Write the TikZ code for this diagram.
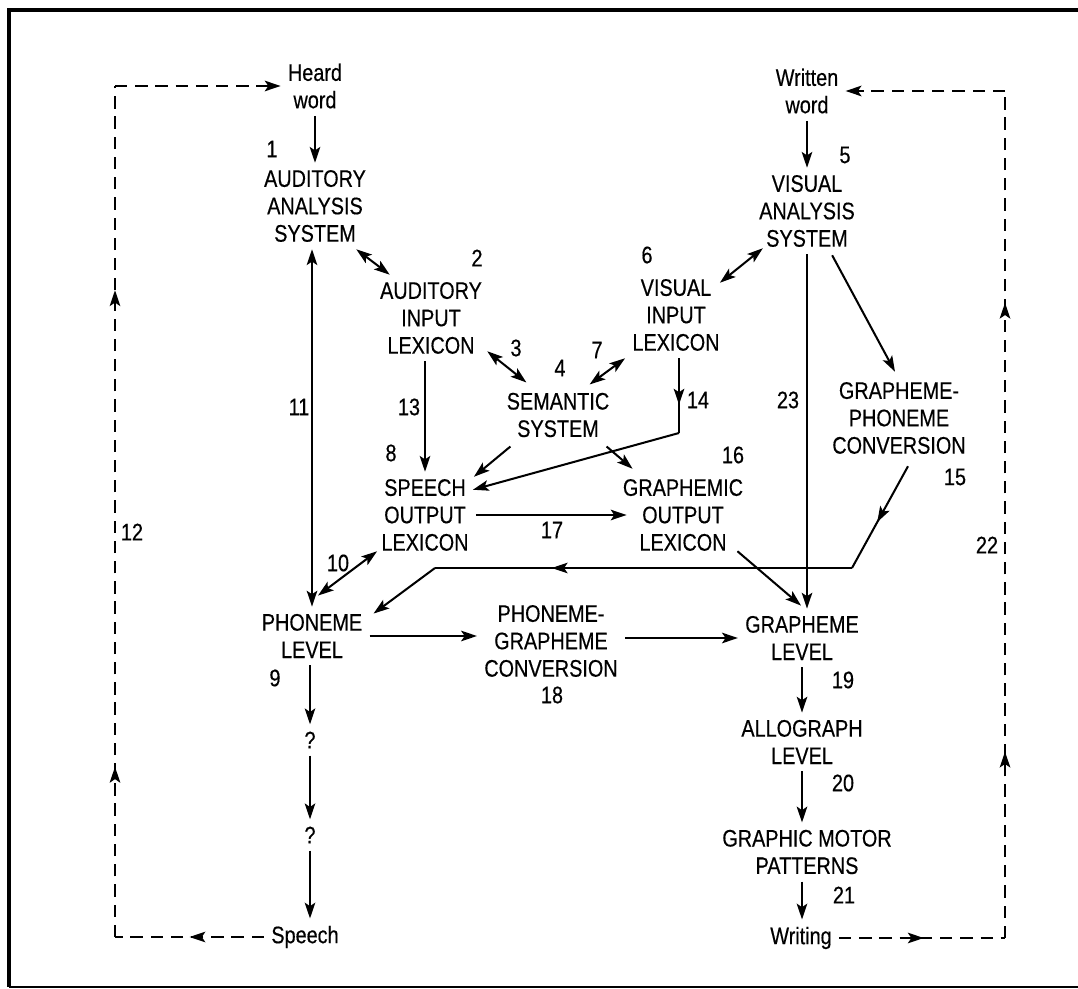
\documentclass[tikz,border=0pt]{standalone}
\usepackage{fontspec}
\setmainfont{Liberation Sans}[FakeStretch=0.83, FakeBold=0.4]
\usetikzlibrary{arrows.meta,decorations.markings}

\begin{document}
\begin{tikzpicture}[
  x=0.02cm, y=-0.02cm,
  >={Stealth[length=9pt, width=6pt, inset=2pt]},
  every node/.style={inner sep=0pt, font=\fontsize{13.6}{15.6}\selectfont},
  box/.style={align=center, inner sep=4pt},
  link/.style={draw, line width=1.15pt},
  arr/.style={link, ->},
  dbl/.style={link, <->},
  fb/.style={draw, line width=1.15pt, dash pattern=on 7pt off 4.5pt},
  tipat/.style={postaction={decorate},
    decoration={markings, mark=at position #1 with {\arrow{>}}}},
  twotips/.style 2 args={postaction={decorate},
    decoration={markings, mark=at position #1 with {\arrow{>}},
                          mark=at position #2 with {\arrow{>}}}}]

  \useasboundingbox (0,0) rectangle (1078,989);

  % ---- frame ---------------------------------------------------------------
  \draw[line width=2pt] (1078,10) -- (9,10) -- (9,987);
  \draw[line width=1.2pt] (9,987) -- (1078,987);

  % ---- boxes ---------------------------------------------------------------
  % auditory side
  \node[box] (HW)  at (315,86)  {Heard\\word};
  \node[box] (AAS) at (315,206) {AUDITORY\\ANALYSIS\\SYSTEM};
  \node[box] (AIL) at (431,318) {AUDITORY\\INPUT\\LEXICON};
  % visual side
  \node[box] (WW)  at (807,91)  {Written\\word};
  \node[box] (VAS) at (807,211) {VISUAL\\ANALYSIS\\SYSTEM};
  \node[box] (VIL) at (676,315) {VISUAL\\INPUT\\LEXICON};
  % middle
  \node[box] (SEM) at (558,415) {SEMANTIC\\SYSTEM};
  \node[box] (GPC) at (899,418) {GRAPHEME-\\PHONEME\\CONVERSION};
  \node[box] (SOL) at (425,515) {SPEECH\\OUTPUT\\LEXICON};
  \node[box] (GOL) at (683,515) {GRAPHEMIC\\OUTPUT\\LEXICON};
  \node[box] (PL)  at (312,636) {PHONEME\\LEVEL};
  \node[box] (PGC) at (551,641) {PHONEME-\\GRAPHEME\\CONVERSION};
  \node[box] (GL)  at (802,638) {GRAPHEME\\LEVEL};
  % output columns
  \node[box] (Q1)  at (310,740) {?};
  \node[box] (Q2)  at (310,835) {?};
  \node[box] (SP)  at (305,937) {Speech};
  \node[box] (AL)  at (802,742) {ALLOGRAPH\\LEVEL};
  \node[box] (GMP) at (807,852) {GRAPHIC MOTOR\\PATTERNS};
  \node[box] (WR)  at (801,938) {Writing};

  % bends of the routes
  \coordinate (K14)  at (679,433);
  \coordinate (K15a) at (852,568);
  \coordinate (K15b) at (435,568);
  \coordinate (TL)   at (115,86);
  \coordinate (TR)   at (1005,91);

  % ---- connectors ----------------------------------------------------------
  \draw[arr] (HW) -- (AAS);
  \draw[dbl] ([shift={(-17,0)}]AAS.south east) -- ([shift={(17,0)}]AIL.north west);
  \draw[dbl] (PL.north |- AAS.south) -- (PL.north);
  \draw[arr] (WW) -- (VAS);
  \draw[dbl] ([shift={(11,-6)}]VAS.south west) -- ([shift={(-7,11)}]VIL.north east);
  \draw[arr] (AIL.south -| SOL.north) -- (SOL.north);
  \draw[dbl] ([shift={(-2,-10)}]AIL.south east) -- ([shift={(27,-3)}]SEM.north west);
  \draw[dbl] (VIL.south west) -- ([shift={(-27,-1)}]SEM.north east);
  % 14: input lexicon straight to speech output
  \draw[link, tipat=0.62] (VIL.south -| K14) -- (K14);
  \draw[arr] (K14) -- ([shift={(-3,18)}]SOL.north east);
  \draw[arr] ([shift={(11,2)}]SEM.south west) -- ([shift={(-2,5)}]SOL.north east);
  \draw[arr] ([shift={(-10,2)}]SEM.south east) -- ([shift={(17,-3)}]GOL.north west);
  \draw[arr] (SOL.east) -- ([shift={(11,0)}]GOL.west);
  \draw[dbl] ([shift={(3,-7)}]SOL.south west) -- ([shift={(6,-11)}]PL.north);
  % 15: grapheme-phoneme route back to phoneme level
  \draw[link, tipat=0.55] ([shift={(9,5)}]GPC.south) -- (K15a);
  \draw[link, tipat=0.72] (K15a) -- (K15b);
  \draw[arr] (K15b) -- ([shift={(4,7)}]PL.north east);
  % 23 and the visual routes down
  \draw[arr] (VAS.south) -- (VAS.south |- GL.north);
  \draw[arr] ([shift={(-30,1)}]VAS.south east) -- ([shift={(-4,-3)}]GPC.north);
  \draw[arr] ([shift={(-13,-7)}]GOL.south east) -- ([shift={(-1,-3)}]GL.north);
  \draw[arr] (PL.east) -- (PL.east -| PGC.west);
  \draw[arr] (GL.west -| PGC.east) -- (GL.west);
  % output chains
  \draw[arr] (PL.south -| Q1) -- (Q1);
  \draw[arr] (Q1) -- (Q2);
  \draw[arr] (Q2) -- (Q2 |- SP.north);
  \draw[arr] (GL.south -| AL.north) -- (AL.north);
  \draw[arr] (AL) -- (AL.south |- GMP.north);
  \draw[arr] (AL.south |- GMP.south) -- (AL.south |- WR.north);

  % ---- feedback loops 12 and 22 --------------------------------------------
  \draw[fb, tipat=0.5] (SP.west) -- (SP.west -| TL);
  \draw[fb, twotips={0.2}{0.76}] (SP.west -| TL) -- (TL);
  \draw[fb, ->] (TL) -- (HW.west);
  \draw[fb, tipat=0.51] (WR.east) -- (WR.east -| TR);
  \draw[fb, twotips={0.22}{0.75}] (WR.east -| TR) -- (TR);
  \draw[fb, ->] (TR) -- (WW.east);

  % ---- numbers -------------------------------------------------------------
  \node (n1)  at (272,149) {1};
  \node (n2)  at (477,258) {2};
  \node (n3)  at (516,348) {3};
  \node (n4)  at (560,368) {4};
  \node (n5)  at (845,155) {5};
  \node (n6)  at (647,255) {6};
  \node (n7)  at (597,350) {7};
  \node (n8)  at (391,453) {8};
  \node (n9)  at (275,678) {9};
  \node (n10) at (338,563) {10};
  \node (n11) at (299,407) {11};
  \node (n12) at (132,532) {12};
  \node (n13) at (409,407) {13};
  \node (n14) at (698,400) {14};
  \node (n15) at (955,477) {15};
  \node (n16) at (733,455) {16};
  \node (n17) at (552,530) {17};
  \node (n18) at (552,695) {18};
  \node (n19) at (843,680) {19};
  \node (n20) at (843,783) {20};
  \node (n21) at (844,895) {21};
  \node (n22) at (987,545) {22};
  \node (n23) at (788,400) {23};
\end{tikzpicture}
\end{document}
